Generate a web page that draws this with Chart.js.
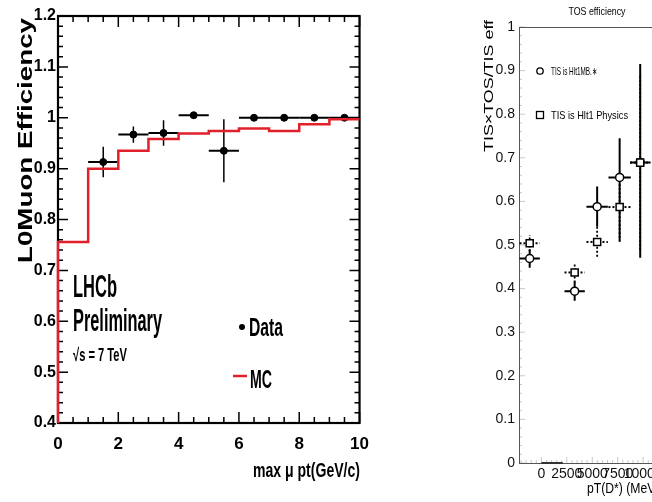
<!DOCTYPE html>
<html>
<head>
<meta charset="utf-8">
<script src="https://cdn.jsdelivr.net/npm/chart.js@4.4.0/dist/chart.umd.min.js"></script>
<style>
  html, body { margin: 0; padding: 0; background: #fff; overflow: hidden; width: 652px; height: 502px; }
  #muonChart { position: absolute; left: 0; top: 0; }
  #tosChart { position: absolute; left: 470px; top: 0; }
</style>
</head>
<body>
<canvas id="muonChart" width="380" height="502"></canvas>
<canvas id="tosChart" width="200" height="502"></canvas>
<script>
// ---- left plot: L0Muon efficiency vs max muon pt ----
const mcBinEdges = [0, 1, 2, 3, 4, 5, 6, 7, 8, 9, 10];
const mcEff = [0.756, 0.900, 0.935, 0.958, 0.969, 0.974, 0.979, 0.974, 0.987, 0.997];
const dataPt = [1.5, 2.5, 3.5, 4.5, 5.5, 6.5, 7.5, 8.5, 9.5];
const dataPtErr = [0.5, 0.5, 0.5, 0.5, 0.5, 0.5, 0.5, 0.5, 0.5];
const dataEff = [0.913, 0.967, 0.970, 1.005, 0.935, 1.0, 1.0, 1.0, 1.0];
const dataEffErr = [0.030, 0.016, 0.025, 0.006, 0.062, 0.004, 0.004, 0.004, 0.004];

// ---- right plot: TOS efficiency vs pT(D*) ----
const tosPt = [-1150, 3270, 5480, 7690, 9710];
const tosPtErr = [1000, 1000, 1050, 1100, 1000];
const effMB = [0.469, 0.394, 0.588, 0.655, 0.689];
const effMBErrLo = [0.021, 0.022, 0.046, 0.145, 0.218];
const effMBErrHi = [0.021, 0.022, 0.046, 0.090, 0.226];
const effPhys = [0.504, 0.437, 0.507, 0.587, 0.689];
const effPhysErr = [0.019, 0.023, 0.034, 0.080, 0.200];
const emptyBinPt = [1050];
const emptyBinPtErr = [1050];
const emptyBinEff = [0];
const tosPtTicks = [0, 2500, 5000, 7500, 10000];

const NARROW = '"Liberation Sans Narrow", "Liberation Sans", Arial, sans-serif';

// draw text squeezed/stretched so it covers a given width at a given cap height
function fitText(ctx, str, x, y, capH, width, weight, align, rot) {
  const size = capH / 0.72;
  ctx.save();
  ctx.font = weight + ' ' + size.toFixed(1) + 'px ' + NARROW;
  const w = ctx.measureText(str).width;
  ctx.translate(x, y);
  if (rot) ctx.rotate(rot);
  ctx.scale(width / w, 1);
  ctx.textAlign = align || 'left';
  ctx.textBaseline = 'alphabetic';
  ctx.fillStyle = '#000';
  ctx.fillText(str, 0, 0);
  ctx.restore();
}

function toPoints(xs, ys) {
  return xs.map((x, i) => ({ x: x, y: ys[i] }));
}

function fmtTick(v) {
  return String(Number(v.toFixed(2)));
}

// error bars, drawn under the markers
const errorBarPlugin = {
  id: 'errorBars',
  beforeDatasetsDraw(chart) {
    const ctx = chart.ctx;
    const xs = chart.scales.x, ys = chart.scales.y;
    const area = chart.chartArea;
    ctx.save();
    ctx.beginPath();
    ctx.rect(area.left, area.top - 2, area.right - area.left, area.bottom - area.top + 4);
    ctx.clip();
    chart.data.datasets.forEach(ds => {
      const eb = ds.errorBars;
      if (!eb) return;
      ctx.strokeStyle = eb.color || '#000';
      ctx.setLineDash(eb.dash || []);
      ds.data.forEach((p, i) => {
        const px = xs.getPixelForValue(p.x);
        const py = ys.getPixelForValue(p.y);
        ctx.lineWidth = eb.hWidth;
        ctx.beginPath();
        ctx.moveTo(xs.getPixelForValue(p.x - eb.xErr[i]), py);
        ctx.lineTo(xs.getPixelForValue(p.x + eb.xErr[i]), py);
        ctx.stroke();
        if (eb.yLo[i] > 0 || eb.yHi[i] > 0) {
          ctx.lineWidth = eb.vWidth;
          ctx.beginPath();
          ctx.moveTo(px, ys.getPixelForValue(p.y - eb.yLo[i]));
          ctx.lineTo(px, ys.getPixelForValue(p.y + eb.yHi[i]));
          ctx.stroke();
        }
      });
    });
    ctx.restore();
  }
};

// ROOT style frame with ticks on all sides (left plot)
const rootFramePlugin = {
  id: 'rootFrame',
  beforeDatasetsDraw(chart) {
    const ctx = chart.ctx;
    const a = chart.chartArea;
    const xs = chart.scales.x, ys = chart.scales.y;
    ctx.save();
    ctx.strokeStyle = '#000';
    ctx.lineWidth = 1.5;
    for (let k = 0; k <= 20; k++) {
      const v = k * 0.5;
      const len = (k % 4 === 0) ? 11 : 6;
      const px = xs.getPixelForValue(v);
      ctx.beginPath();
      ctx.moveTo(px, a.bottom); ctx.lineTo(px, a.bottom - len);
      ctx.moveTo(px, a.top); ctx.lineTo(px, a.top + len);
      ctx.stroke();
    }
    for (let k = 0; k <= 40; k++) {
      const v = 0.4 + k * 0.02;
      const len = (k % 5 === 0) ? 10 : 5;
      const py = ys.getPixelForValue(v);
      ctx.beginPath();
      ctx.moveTo(a.left, py); ctx.lineTo(a.left + len, py);
      ctx.moveTo(a.right, py); ctx.lineTo(a.right - len, py);
      ctx.stroke();
    }
    ctx.lineWidth = 2.2;
    ctx.strokeRect(a.left, a.top, a.right - a.left, a.bottom - a.top);
    ctx.restore();
  },
  afterDraw(chart) {
    const ctx = chart.ctx;
    fitText(ctx, 'L0Muon Efficiency', 32, 263, 15, 245, 'bold', 'left', -Math.PI / 2);
    fitText(ctx, 'max \u03bc pt(GeV/c)', 253, 477, 15, 107, 'bold');
    fitText(ctx, 'LHCb', 73, 297, 22, 44, 'bold');
    fitText(ctx, 'Preliminary', 73, 331, 23, 89, 'bold');
    fitText(ctx, '\u221as = 7 TeV', 73, 361, 13, 54, 'bold');
    // legend
    ctx.save();
    ctx.fillStyle = '#000';
    ctx.beginPath();
    ctx.arc(242, 327, 3, 0, Math.PI * 2);
    ctx.fill();
    ctx.strokeStyle = '#e0202a';
    ctx.lineWidth = 2.5;
    ctx.beginPath();
    ctx.moveTo(233, 376); ctx.lineTo(247, 376);
    ctx.stroke();
    ctx.restore();
    fitText(ctx, 'Data', 249, 336, 19, 34, 'bold');
    fitText(ctx, 'MC', 250, 388, 18, 22, 'bold');
  }
};

// thin grey frame with faint ticks (right plot)
const tosFramePlugin = {
  id: 'tosFrame',
  beforeDatasetsDraw(chart) {
    const ctx = chart.ctx;
    const a = chart.chartArea;
    const xs = chart.scales.x, ys = chart.scales.y;
    ctx.save();
    ctx.strokeStyle = '#c8c8c8';
    ctx.lineWidth = 1;
    for (let k = 0; k <= 50; k++) {
      const py = ys.getPixelForValue(k * 0.02);
      const len = (k % 5 === 0) ? 6 : 3;
      ctx.beginPath();
      ctx.moveTo(a.left, py); ctx.lineTo(a.left + len, py);
      ctx.stroke();
    }
    for (let v = -2000; v <= 12000; v += 500) {
      const px = xs.getPixelForValue(v);
      const len = (v % 2500 === 0) ? 6 : 3;
      ctx.beginPath();
      ctx.moveTo(px, a.bottom); ctx.lineTo(px, a.bottom - len);
      ctx.stroke();
    }
    ctx.strokeStyle = '#555';
    ctx.beginPath();
    ctx.moveTo(a.left + 0.5, a.top); ctx.lineTo(a.left + 0.5, a.bottom);
    ctx.moveTo(a.left, a.bottom + 0.5); ctx.lineTo(a.right, a.bottom + 0.5);
    ctx.moveTo(a.left, a.top + 0.5); ctx.lineTo(a.right, a.top + 0.5);
    ctx.stroke();
    ctx.restore();
  },
  afterDraw(chart) {
    const ctx = chart.ctx;
    // canvas starts at page x = 470
    fitText(ctx, 'TOS efficiency', 127, 15, 7.5, 57, 'normal', 'center');
    fitText(ctx, 'TIS\u00d7TOS/TIS eff', 23, 152, 9.5, 132, 'normal', 'left', -Math.PI / 2);
    fitText(ctx, 'TIS is Hlt1MB.\u2217', 81, 75, 8, 46, 'normal');
    fitText(ctx, 'TIS is Hlt1 Physics', 81, 119, 8, 77, 'normal');
    fitText(ctx, 'pT(D*) (MeV/c)', 117, 493, 10, 82, 'normal');
    ctx.save();
    ctx.strokeStyle = '#000';
    ctx.lineWidth = 1.3;
    ctx.beginPath();
    ctx.arc(70, 71, 3.2, 0, Math.PI * 2);
    ctx.stroke();
    ctx.strokeRect(66.5, 111.5, 7, 7);
    ctx.restore();
  }
};

// ---------- left chart ----------
// histogram outline: rises from zero at the first edge, then one step per bin
const mcPoints = [{ x: mcBinEdges[0], y: 0 }];
mcEff.forEach((e, i) => mcPoints.push({ x: mcBinEdges[i], y: e }));
mcPoints.push({ x: mcBinEdges[mcBinEdges.length - 1], y: mcEff[mcEff.length - 1] });

new Chart(document.getElementById('muonChart'), {
  type: 'scatter',
  data: {
    datasets: [
      {
        label: 'MC',
        data: mcPoints,
        showLine: true,
        stepped: 'before',
        borderColor: '#e0202a',
        borderWidth: 2.5,
        pointRadius: 0,
        clip: { left: 2, top: 0, right: 2, bottom: 0 }
      },
      {
        label: 'Data',
        data: toPoints(dataPt, dataEff),
        pointRadius: 3.5,
        pointBackgroundColor: '#000',
        pointBorderColor: '#000',
        errorBars: { xErr: dataPtErr, yLo: dataEffErr, yHi: dataEffErr, hWidth: 2, vWidth: 1.5 }
      }
    ]
  },
  options: {
    responsive: false,
    animation: false,
    events: [],
    layout: { padding: { top: 16, right: 18, left: 0, bottom: 0 } },
    plugins: { legend: { display: false }, tooltip: { enabled: false } },
    scales: {
      x: {
        type: 'linear', min: 0, max: 10,
        grid: { display: false, drawTicks: false },
        border: { display: false },
        ticks: {
          stepSize: 2, maxRotation: 0, autoSkip: false, padding: 11, color: '#000',
          font: { family: NARROW, size: 17, weight: 'bold' }
        },
        afterFit(scale) { scale.height = 79; }
      },
      y: {
        type: 'linear', min: 0.4, max: 1.2,
        grid: { display: false, drawTicks: false },
        border: { display: false },
        ticks: {
          stepSize: 0.1, padding: 2, color: '#000',
          font: { family: NARROW, size: 16, weight: 'bold' },
          callback: fmtTick
        },
        afterFit(scale) { scale.width = 58; }
      }
    }
  },
  plugins: [rootFramePlugin, errorBarPlugin]
});

// ---------- right chart ----------
new Chart(document.getElementById('tosChart'), {
  type: 'scatter',
  data: {
    datasets: [
      {
        label: 'empty bin',
        data: toPoints(emptyBinPt, emptyBinEff),
        pointRadius: 0,
        errorBars: { xErr: emptyBinPtErr, yLo: [0], yHi: [0], hWidth: 2, vWidth: 2, color: '#333' }
      },
      {
        label: 'TIS is Hlt1 Physics',
        data: toPoints(tosPt, effPhys),
        pointStyle: 'rect',
        pointRadius: 5,
        pointBackgroundColor: '#fff',
        pointBorderColor: '#000',
        pointBorderWidth: 1.5,
        errorBars: { xErr: tosPtErr, yLo: effPhysErr, yHi: effPhysErr, hWidth: 2, vWidth: 1.8, dash: [2, 2] }
      },
      {
        label: 'TIS is Hlt1MB',
        data: toPoints(tosPt, effMB),
        pointStyle: 'circle',
        pointRadius: 4,
        pointBackgroundColor: '#fff',
        pointBorderColor: '#000',
        pointBorderWidth: 1.5,
        errorBars: { xErr: tosPtErr, yLo: effMBErrLo, yHi: effMBErrHi, hWidth: 2, vWidth: 2 }
      }
    ]
  },
  options: {
    responsive: false,
    animation: false,
    events: [],
    layout: { padding: { top: 27, right: 3, left: 0, bottom: 0 } },
    plugins: { legend: { display: false }, tooltip: { enabled: false } },
    scales: {
      x: {
        type: 'linear', min: -2200, max: 12000,
        grid: { display: false, drawTicks: false },
        border: { display: false },
        afterBuildTicks(scale) {
          scale.ticks = tosPtTicks.map(v => ({ value: v }));
        },
        ticks: {
          maxRotation: 0, minRotation: 0, autoSkip: false,
          padding: 3, color: '#111',
          font: { family: NARROW, size: 14 },
          callback: v => String(v)
        },
        afterFit(scale) { scale.height = 39; }
      },
      y: {
        type: 'linear', min: 0, max: 1,
        grid: { display: false, drawTicks: false },
        border: { display: false },
        ticks: {
          stepSize: 0.1, padding: 4, color: '#111',
          font: { family: NARROW, size: 14 },
          callback: fmtTick
        },
        afterFit(scale) { scale.width = 49; }
      }
    }
  },
  plugins: [tosFramePlugin, errorBarPlugin]
});
</script>
</body>
</html>
